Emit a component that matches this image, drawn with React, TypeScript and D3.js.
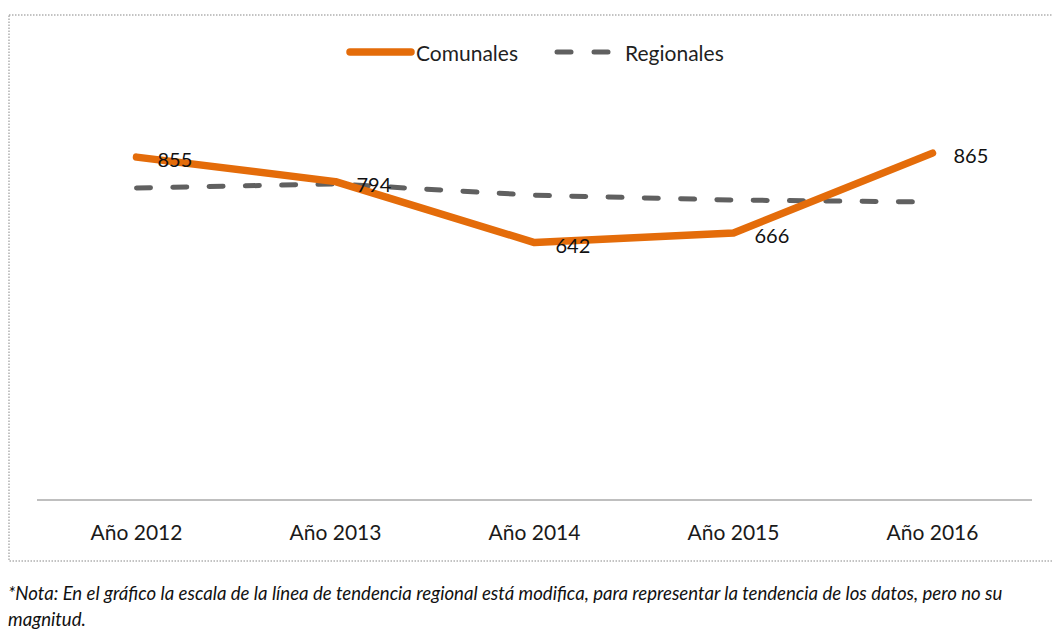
import React from "react";
import * as d3 from "d3";

const categories = ["Año 2012", "Año 2013", "Año 2014", "Año 2015", "Año 2016"];
const comunales = [855, 794, 642, 666, 865];
// Regional trend drawn on a modified scale (trend only, not magnitude)
const regionales = [778, 788, 760, 748, 743];
const seriesNames = ["Comunales", "Regionales"];
const noteLines = [
  "*Nota: En el gráfico la escala de la línea de tendencia regional está modifica, para representar la tendencia de los datos, pero no su",
  "magnitud.",
];

const W = 1053;
const H = 642;
const FONT = "Lato, 'Open Sans', sans-serif";
const ORANGE = "#E46C0A";
const GRAY = "#606060";

export default function App() {
  const x = d3.scaleBand<string>().domain(categories).range([37, 1032]);
  const y = d3.scaleLinear().domain([0, 1000]).range([500, 99]);
  const cx = (c: string) => (x(c) as number) + x.bandwidth() / 2;

  const lineGen = d3
    .line<number>()
    .x((_, i) => cx(categories[i]))
    .y((d) => y(d));

  return (
    <div style={{ position: "absolute", left: 0, top: 0 }}>
      <svg width={W} height={H} style={{ display: "block", background: "#fff" }}>
        {/* frame */}
        <rect
          x={9}
          y={15}
          width={1060}
          height={546}
          fill="none"
          stroke="#b0b0b0"
          strokeWidth={1.5}
          strokeDasharray="1.5,1.5"
        />
        {/* legend */}
        <g fontFamily={FONT} fontSize={21} fill="#1f1f1f">
          <line x1={350} x2={411} y1={52} y2={52} stroke={ORANGE} strokeWidth={7.5} strokeLinecap="round" />
          <text x={416} y={52} dominantBaseline="central">{seriesNames[0]}</text>
          <line x1={557} x2={571} y1={52} y2={52} stroke={GRAY} strokeWidth={5} strokeLinecap="round" />
          <line x1={594} x2={608} y1={52} y2={52} stroke={GRAY} strokeWidth={5} strokeLinecap="round" />
          <text x={625} y={52} dominantBaseline="central">{seriesNames[1]}</text>
        </g>
        {/* axis */}
        <line x1={37} x2={1032} y1={y(0)} y2={y(0)} stroke="#bfbfbf" strokeWidth={2} />
        <g fontFamily={FONT} fontSize={21} fill="#1a1a1a" textAnchor="middle">
          {categories.map((c) => (
            <text key={c} x={cx(c)} y={531} dominantBaseline="central">{c}</text>
          ))}
        </g>
        {/* regional dashed */}
        <path
          d={lineGen(regionales) || ""}
          fill="none"
          stroke={GRAY}
          strokeWidth={5}
          strokeDasharray="14,22.3"
          strokeLinecap="round"
        />
        {/* comunales */}
        <path
          d={lineGen(comunales) || ""}
          fill="none"
          stroke={ORANGE}
          strokeWidth={7.5}
          strokeLinecap="round"
          strokeLinejoin="round"
        />
        <g fontFamily={FONT} fontSize={20} fill="#111">
          {comunales.map((v, i) => (
            <text key={i} x={cx(categories[i]) + 21} y={y(v) + 2} dominantBaseline="central">{v}</text>
          ))}
        </g>
        {/* note */}
        <g fontFamily={FONT} fontSize={18.6} fontStyle="italic" fill="#111">
          {noteLines.map((t, i) => (
            <text key={i} x={8} y={593 + i * 26} dominantBaseline="central">{t}</text>
          ))}
        </g>
      </svg>
    </div>
  );
}
